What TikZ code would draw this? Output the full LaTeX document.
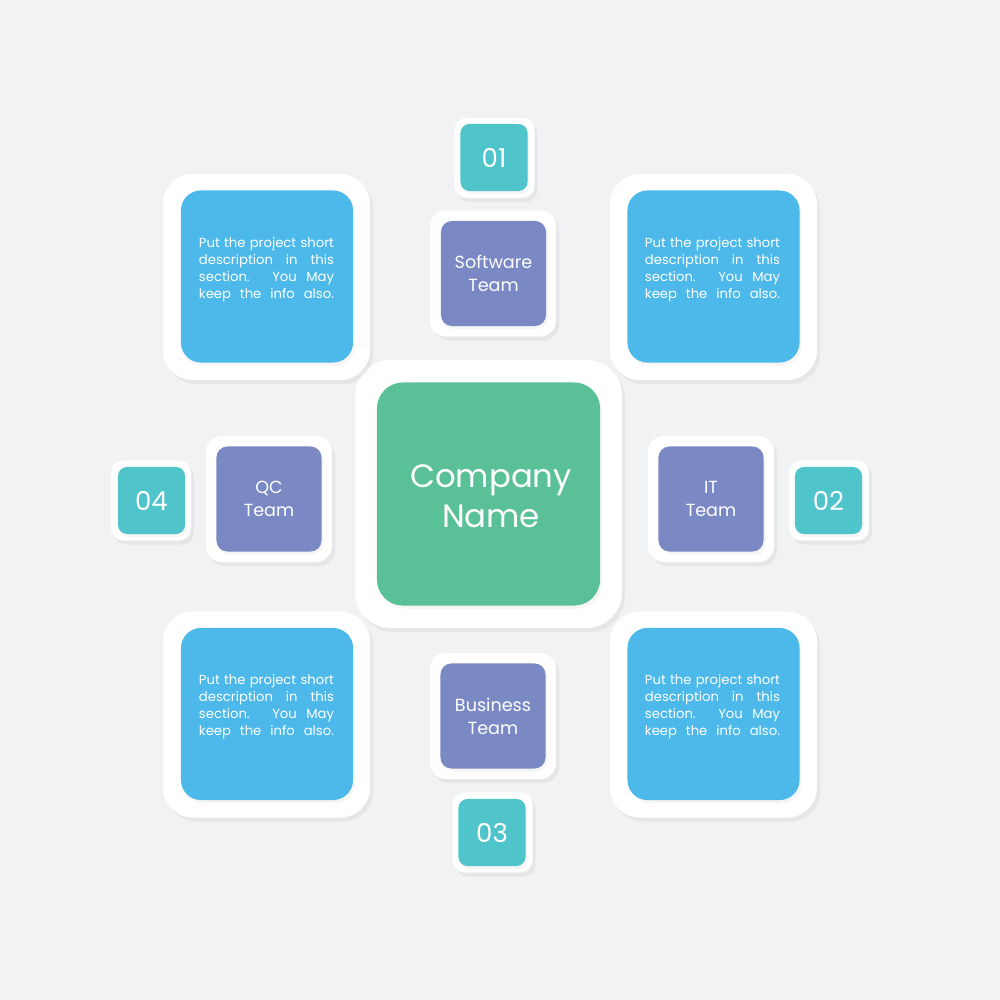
\documentclass[tikz,border=0pt]{standalone}
\usepackage{fontspec}
\setmainfont{Poppins}
\usetikzlibrary{shadows,positioning}

\definecolor{pagegray}{HTML}{F1F2F4}
\definecolor{descblue}{HTML}{4CB9EA}
\definecolor{teampurple}{HTML}{7A88C4}
\definecolor{numteal}{HTML}{4FC4CB}
\definecolor{companygreen}{HTML}{59C097}

\newcommand{\descline}[1]{\makebox[1.35cm][s]{#1}}
\newcommand{\desctext}{\descline{Put the project short}\\\descline{description in this}\\\descline{section. You May}\\\descline{keep the info also.}}

\begin{document}
\begin{tikzpicture}[x=0.01cm,y=-0.01cm,
  frame/.style={fill=white,rounded corners=#1,inner sep=0pt,
    drop shadow={opacity=0.10,shadow xshift=0.3mm,shadow yshift=-0.4mm}},
  tile/.style={rounded corners=#1,inner sep=0pt,text=white,align=center,
    drop shadow={opacity=0.08,shadow xshift=0.2mm,shadow yshift=-0.3mm}},
  descframe/.style={frame=3mm,minimum width=2.07cm,minimum height=2.06cm},
  descbox/.style={tile=2mm,fill=descblue,minimum size=1.72cm},
  desctxt/.style={text=white,align=left,inner sep=0pt,font=\fontsize{3.75pt}{4.84pt}\selectfont},
  teamframe/.style={frame=1.6mm,minimum size=1.26cm},
  teambox/.style={tile=1.1mm,fill=teampurple,minimum size=1.05cm,font=\fontsize{5pt}{6.5pt}\selectfont},
  numframe/.style={frame=1.2mm,minimum size=0.80cm},
  numbox/.style={tile=0.9mm,fill=numteal,minimum size=0.67cm,font=\fontsize{7.4pt}{8pt}\selectfont}]

  % Page
  \fill[pagegray] (0,0) rectangle (1000,1000);
  \useasboundingbox (0,0) rectangle (1000,1000);

  % Centre
  \node[frame=3.6mm,minimum width=2.67cm,minimum height=2.68cm] (companyframe) at (488.5,494) {};
  \node[tile=2.6mm,fill=companygreen,minimum size=2.23cm] (company) at (488.5,494) {};
  \node[text=white,align=center,inner sep=0pt,font=\fontsize{9.2pt}{11.4pt}\selectfont] (companyname) at (491,496) {Company\\Name};

  % Description tiles
  \node[descframe] (descTLframe) at (266.5,277) {};
  \node[descbox] (descTL) at (267,276.5) {};
  \node[desctxt] (descTLtext) at (266.5,270) {\desctext};

  \node[descframe] (descTRframe) at (713.5,277) {};
  \node[descbox] (descTR) at (713.5,276.5) {};
  \node[desctxt] (descTRtext) at (712.5,270) {\desctext};

  \node[descframe] (descBLframe) at (266.5,714.5) {};
  \node[descbox] (descBL) at (267,714) {};
  \node[desctxt] (descBLtext) at (266.5,707) {\desctext};

  \node[descframe] (descBRframe) at (713.5,714.5) {};
  \node[descbox] (descBR) at (713.5,714) {};
  \node[desctxt] (descBRtext) at (712.5,707) {\desctext};

  % Teams
  \node[teamframe] (softwareframe) at (493,273.5) {};
  \node[teambox] (software) at (493.5,273.5) {Software\\Team};

  \node[teamframe] (itframe) at (711,499) {};
  \node[teambox] (it) at (711,499) {IT\\Team};

  \node[teamframe] (businessframe) at (493,716) {};
  \node[teambox] (business) at (493,716) {Business\\Team};

  \node[teamframe] (qcframe) at (269,499) {};
  \node[teambox] (qc) at (269,499) {QC\\Team};

  % Numbers
  \node[numframe] (oneframe) at (494.5,158) {};
  \node[numbox] (one) at (494,157.5) {01};

  \node[numframe] (twoframe) at (829,500.5) {};
  \node[numbox] (two) at (828.5,500.5) {02};

  \node[numframe] (threeframe) at (492.5,832.5) {};
  \node[numbox] (three) at (492,832.5) {03};

  \node[numframe] (fourframe) at (151,500.5) {};
  \node[numbox] (four) at (151.5,500.5) {04};
\end{tikzpicture}
\end{document}
